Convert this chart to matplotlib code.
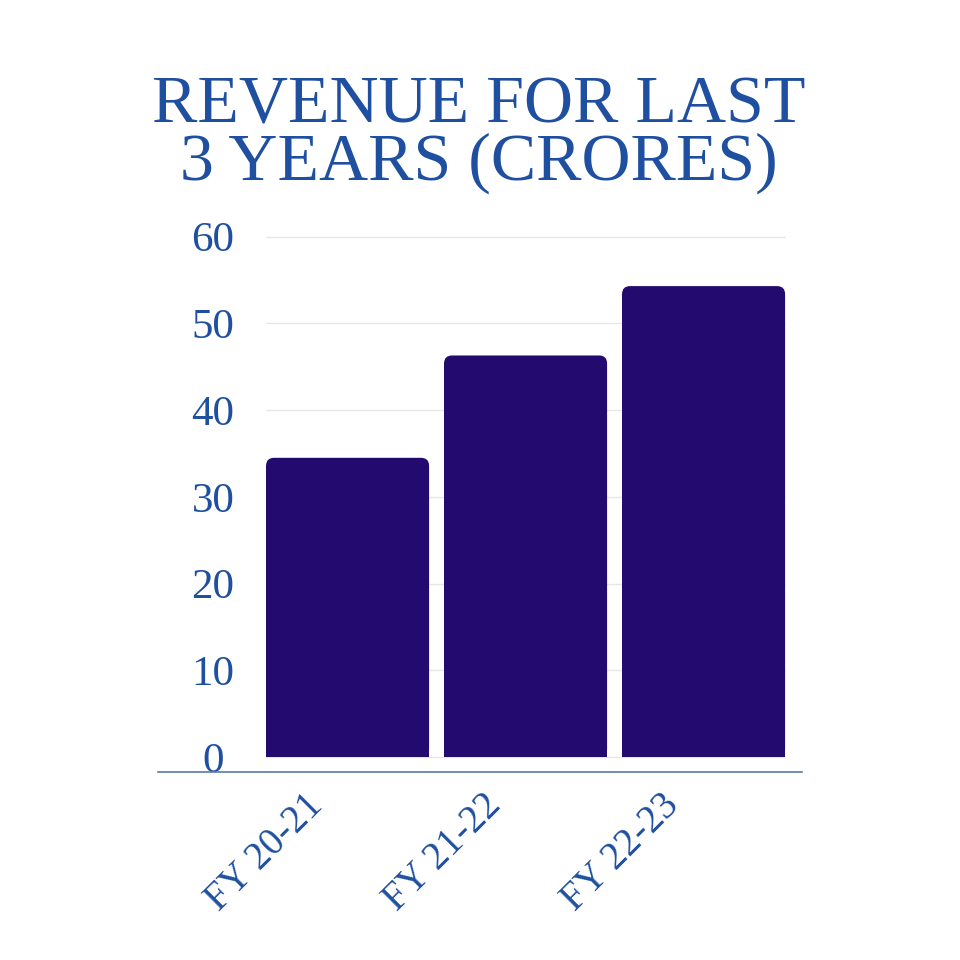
import matplotlib
matplotlib.use("Agg")
import matplotlib.pyplot as plt
import matplotlib.transforms as mtransforms
from matplotlib.patches import FancyBboxPatch

# data
years = ["FY 20-21", "FY 21-22", "FY 22-23"]
revenue = [34.5, 46.3, 54.3]
yticks = [0, 10, 20, 30, 40, 50, 60]

title_blue = "#1f4fa0"
bar_col = "#220a6e"
font = "Liberation Serif"

fig = plt.figure(figsize=(9.6, 9.6), dpi=100)
ax = fig.add_axes([158 / 960, 188 / 960, 644 / 960, 544 / 960])

w = 0.916
xs = list(range(len(years)))
ax.set_xlim(-1.065, 2.553)
ax.set_ylim(-1.73, 61)

# light gridlines only across the bar area
ax.hlines(yticks, -w / 2, 2 + w / 2, color="#e6e6e6", lw=1, zorder=0, clip_on=False)

# bars with rounded top corners
rx = 0.045
asp = 20.54
for x, v in zip(xs, revenue):
    ax.bar(x, v - rx * asp, width=w, color=bar_col, zorder=2)
    p = FancyBboxPatch((x - w / 2 + rx, rx * asp), w - 2 * rx, v - 2 * rx * asp,
                       boxstyle=f"round,pad={rx},rounding_size={rx}",
                       mutation_aspect=asp, fc=bar_col, ec="none", zorder=2)
    ax.add_patch(p)

for s in ["top", "right", "left"]:
    ax.spines[s].set_visible(False)
ax.spines["bottom"].set_color("#5b7ba0")
ax.spines["bottom"].set_linewidth(1.2)

ax.set_yticks(yticks)
ax.set_yticklabels([str(t) for t in yticks], fontsize=31, family=font, color=title_blue)
ax.tick_params(axis="y", length=0, pad=-39.6)
for lab in ax.get_yticklabels():
    lab.set_horizontalalignment("center")
    lab.set_verticalalignment("center_baseline")

ax.set_xticks(xs)
ax.set_xticklabels(years, fontsize=28, family=font, color=title_blue,
                   rotation=45, ha="right", va="center", rotation_mode="anchor")
ax.tick_params(axis="x", length=0, pad=20)
shift = mtransforms.ScaledTranslation(-30 / 100, 0, fig.dpi_scale_trans)
for lab in ax.get_xticklabels():
    lab.set_transform(lab.get_transform() + shift)

fig.text(0.499, 1 - 123 / 960, "REVENUE FOR LAST", ha="center", va="baseline",
         fontsize=49, family=font, color=title_blue)
fig.text(0.499, 1 - 180 / 960, "3 YEARS (CRORES)", ha="center", va="baseline",
         fontsize=49, family=font, color=title_blue)

fig.savefig("out.png", dpi=100, facecolor="white")
